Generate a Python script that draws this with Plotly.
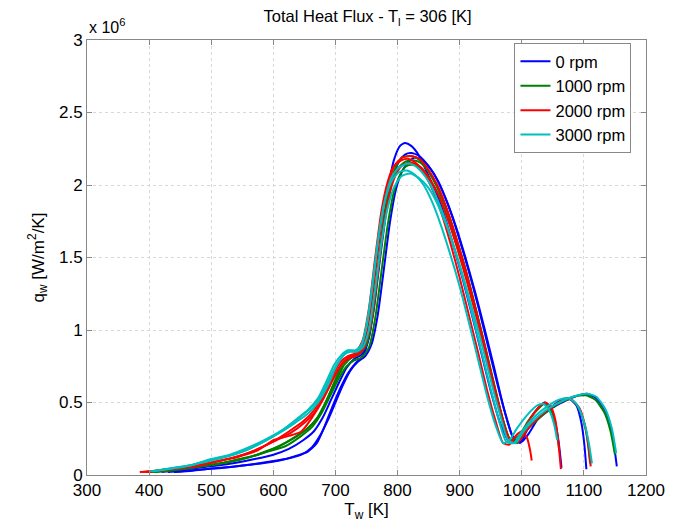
import plotly.graph_objects as go

# Wall temperature [K] and heat flux [x 1e6 W/m^2/K] per run
t_b1 = [430,460,490,520,550,580,610,635,655,670,682,695,708,720,732,744,754,764,774,784,794,804,812,822,835,848,862,876,890,905,920,935,950,965,980,993,1002,1015,1028,1037,1046,1053,1059,1064]
q_b1 = [0.02,0.03,0.04,0.05,0.065,0.08,0.10,0.13,0.16,0.22,0.33,0.47,0.60,0.70,0.77,0.82,0.95,1.25,1.62,1.95,2.17,2.27,2.29,2.27,2.20,2.08,1.95,1.78,1.58,1.35,1.10,0.84,0.58,0.36,0.23,0.24,0.30,0.40,0.47,0.50,0.47,0.38,0.24,0.05]
t_b2 = [440,470,500,530,560,590,620,645,662,675,688,700,712,724,736,748,758,768,778,788,798,808,818,828,840,855,870,885,900,915,930,945,960,975,988,1000,1012,1025,1045,1065,1075,1088,1096,1101,1104]
q_b2 = [0.02,0.03,0.045,0.055,0.07,0.09,0.11,0.14,0.19,0.27,0.38,0.50,0.62,0.72,0.78,0.82,0.90,1.10,1.42,1.75,1.98,2.10,2.16,2.19,2.17,2.10,1.98,1.82,1.62,1.40,1.16,0.90,0.64,0.40,0.24,0.23,0.29,0.38,0.46,0.52,0.53,0.48,0.36,0.20,0.04]
t_b3 = [420,450,480,510,540,570,600,625,648,665,680,693,706,718,730,742,752,762,772,782,792,802,812,822,835,850,865,880,895,910,925,940,955,970,985,997,1010,1035,1060,1085,1105,1120,1135,1145,1153]
q_b3 = [0.02,0.035,0.05,0.065,0.085,0.11,0.14,0.18,0.24,0.30,0.40,0.52,0.64,0.74,0.80,0.83,0.92,1.15,1.50,1.82,2.04,2.16,2.21,2.22,2.20,2.13,2.03,1.88,1.70,1.49,1.26,1.01,0.75,0.48,0.27,0.22,0.32,0.42,0.49,0.54,0.56,0.53,0.44,0.30,0.06]

t_g1 = [400,430,460,490,520,550,580,610,635,655,672,688,702,714,726,738,750,760,770,780,790,800,812,825,838,852,867,882,897,912,927,942,957,970,982,995,1010,1025,1036,1045,1052,1057,1060]
q_g1 = [0.02,0.03,0.045,0.065,0.085,0.11,0.15,0.20,0.26,0.32,0.40,0.53,0.66,0.76,0.81,0.83,0.90,1.10,1.45,1.78,2.00,2.11,2.16,2.17,2.15,2.08,1.96,1.80,1.60,1.38,1.13,0.87,0.60,0.38,0.24,0.27,0.37,0.45,0.49,0.46,0.38,0.28,0.18]
t_g2 = [395,425,455,485,515,545,575,605,630,652,670,686,700,712,724,736,748,758,768,778,788,798,808,820,833,847,862,877,892,907,922,937,952,966,980,993,1008,1033,1058,1083,1103,1118,1133,1143,1150]
q_g2 = [0.02,0.03,0.045,0.06,0.08,0.11,0.14,0.19,0.25,0.31,0.39,0.52,0.66,0.77,0.82,0.84,0.90,1.08,1.42,1.76,2.00,2.13,2.19,2.20,2.18,2.11,2.00,1.85,1.66,1.45,1.21,0.95,0.68,0.44,0.25,0.22,0.31,0.41,0.49,0.54,0.55,0.52,0.43,0.30,0.14]
t_g3 = [410,440,470,500,530,560,590,620,645,662,678,692,706,718,730,742,754,764,774,784,794,804,814,824,836,850,865,880,895,910,925,940,955,968,980,992,1005,1025,1045,1065,1080,1092,1102,1107,1110]
q_g3 = [0.02,0.035,0.05,0.07,0.09,0.12,0.16,0.20,0.27,0.33,0.43,0.55,0.67,0.75,0.79,0.81,0.88,1.08,1.40,1.72,1.95,2.07,2.13,2.14,2.12,2.05,1.94,1.78,1.59,1.37,1.13,0.88,0.62,0.40,0.25,0.23,0.30,0.39,0.46,0.51,0.52,0.46,0.33,0.20,0.08]

t_r1 = [385,415,445,475,505,535,565,595,625,648,666,682,696,708,720,732,744,754,764,774,784,794,806,818,830,843,857,871,885,900,915,930,945,958,970,980,990,1000,1008,1013,1016]
q_r1 = [0.02,0.03,0.045,0.06,0.09,0.12,0.16,0.22,0.30,0.37,0.45,0.57,0.69,0.78,0.82,0.84,0.93,1.15,1.50,1.82,2.02,2.13,2.17,2.18,2.15,2.08,1.96,1.80,1.60,1.36,1.10,0.84,0.57,0.37,0.22,0.21,0.27,0.30,0.26,0.18,0.10]
t_r2 = [390,420,450,480,510,540,570,600,628,650,668,684,698,710,722,734,746,756,766,776,786,796,808,822,835,849,864,879,894,909,924,939,954,967,978,990,1003,1017,1030,1038,1047,1054,1059,1063]
q_r2 = [0.02,0.035,0.05,0.07,0.095,0.12,0.17,0.23,0.29,0.36,0.44,0.56,0.68,0.77,0.81,0.83,0.91,1.12,1.46,1.80,2.02,2.14,2.19,2.20,2.18,2.11,2.00,1.84,1.64,1.42,1.17,0.91,0.64,0.42,0.25,0.22,0.31,0.41,0.48,0.50,0.47,0.38,0.22,0.04]
t_r3 = [395,425,455,485,515,545,575,600,625,645,663,680,695,708,720,732,744,756,766,776,786,796,806,816,826,838,852,867,882,897,912,927,942,957,970,983,995,1008,1028,1048,1068,1080,1093,1103,1108,1111]
q_r3 = [0.02,0.035,0.05,0.07,0.10,0.13,0.17,0.24,0.27,0.30,0.40,0.52,0.65,0.75,0.80,0.82,0.86,1.02,1.32,1.66,1.92,2.06,2.13,2.15,2.15,2.12,2.04,1.92,1.75,1.55,1.33,1.09,0.83,0.57,0.36,0.23,0.23,0.31,0.40,0.47,0.52,0.52,0.46,0.32,0.18,0.06]

t_c1 = [400,430,460,490,520,550,580,610,635,655,672,688,700,712,722,732,742,752,762,772,782,792,803,815,828,842,856,870,885,900,915,930,945,958,970,980,992,1010,1025,1035,1045,1052,1057]
q_c1 = [0.025,0.04,0.06,0.09,0.12,0.16,0.22,0.29,0.36,0.42,0.50,0.62,0.74,0.82,0.86,0.86,0.90,1.08,1.40,1.72,1.93,2.04,2.09,2.10,2.07,2.00,1.88,1.72,1.52,1.30,1.05,0.79,0.53,0.34,0.22,0.24,0.32,0.42,0.48,0.49,0.44,0.35,0.24]
t_c2 = [405,435,465,495,525,555,585,612,636,656,672,686,698,710,720,730,740,750,760,770,780,790,802,818,832,846,860,875,890,905,920,935,950,963,975,987,1000,1020,1040,1060,1075,1088,1100,1108,1113]
q_c2 = [0.025,0.045,0.065,0.10,0.13,0.17,0.23,0.30,0.38,0.45,0.53,0.65,0.76,0.83,0.86,0.85,0.88,1.02,1.32,1.66,1.90,2.05,2.12,2.15,2.12,2.05,1.94,1.78,1.58,1.36,1.11,0.85,0.59,0.38,0.23,0.22,0.30,0.40,0.47,0.52,0.53,0.49,0.37,0.22,0.08]
t_c3 = [410,440,470,500,530,560,590,618,640,660,676,690,702,714,724,734,744,754,764,774,784,794,806,820,834,848,862,877,892,907,922,937,952,966,978,990,1003,1015,1040,1065,1090,1105,1120,1135,1145,1152]
q_c3 = [0.03,0.05,0.07,0.11,0.14,0.19,0.25,0.32,0.39,0.46,0.54,0.66,0.76,0.83,0.85,0.85,0.88,1.00,1.28,1.60,1.84,1.98,2.06,2.08,2.05,1.99,1.89,1.74,1.56,1.35,1.12,0.88,0.62,0.40,0.24,0.22,0.30,0.36,0.45,0.51,0.55,0.56,0.54,0.45,0.32,0.15]

series_names = ["0 rpm", "1000 rpm", "2000 rpm", "3000 rpm"]
series_colors = ["#0000FF", "#008000", "#FF0000", "#00BFBF"]
series_runs = [
    [(t_b1, q_b1), (t_b2, q_b2), (t_b3, q_b3)],
    [(t_g1, q_g1), (t_g2, q_g2), (t_g3, q_g3)],
    [(t_r1, q_r1), (t_r2, q_r2), (t_r3, q_r3)],
    [(t_c1, q_c1), (t_c2, q_c2), (t_c3, q_c3)],
]

x_ticks = [300, 400, 500, 600, 700, 800, 900, 1000, 1100, 1200]
y_ticks = [0, 0.5, 1, 1.5, 2, 2.5, 3]
y_tick_labels = ["0", "0.5", "1", "1.5", "2", "2.5", "3"]

FONT = "Liberation Sans, Arial, sans-serif"

fig = go.Figure()
for name, color, runs in zip(series_names, series_colors, series_runs):
    for i, (t, q) in enumerate(runs):
        fig.add_trace(go.Scatter(
            x=t, y=q, mode="lines", name=name, legendgroup=name,
            showlegend=(i == 0),
            line=dict(color=color, width=2, shape="spline", smoothing=0.6),
        ))

axis_common = dict(
    showline=True, linecolor="#888888", linewidth=1, mirror="allticks",
    ticks="inside", ticklen=5, tickcolor="#888888",
    showgrid=True, gridcolor="#d8d8d8", griddash="dot", gridwidth=1,
    zeroline=False, tickfont=dict(family=FONT, size=17, color="#000"),
)

fig.update_layout(
    width=685, height=517,
    margin=dict(l=79, r=47, t=32, b=50, autoexpand=False),
    paper_bgcolor="white", plot_bgcolor="white",
    title=dict(text="Total Heat Flux - T<sub>l</sub> = 306 [K]", x=0.525, xanchor="center",
               y=0.984, yanchor="middle", font=dict(family=FONT, size=16.5, color="#000")),
    xaxis=dict(range=[300, 1200], tickvals=x_ticks, title=dict(text="T<sub>w</sub> [K]", standoff=2,
               font=dict(family=FONT, size=17, color="#000")), **axis_common),
    yaxis=dict(range=[0, 3], tickvals=y_ticks, ticktext=y_tick_labels,
               title=dict(text="q<sub>w</sub> [W/m<sup>2</sup>/K]", standoff=10,
                          font=dict(family=FONT, size=17, color="#000")), **axis_common),
    legend=dict(x=0.974, y=0.993, xanchor="right", yanchor="top",
                bordercolor="#888888", borderwidth=1, bgcolor="white",
                font=dict(family=FONT, size=16.5, color="#000"), tracegroupgap=0),
    annotations=[dict(text="x 10<sup>6</sup>", x=0, y=1, xref="paper", yref="paper",
                      xanchor="left", yanchor="bottom", yshift=2, showarrow=False,
                      font=dict(family=FONT, size=16, color="#000"))],
)

fig.write_html("out.html")
